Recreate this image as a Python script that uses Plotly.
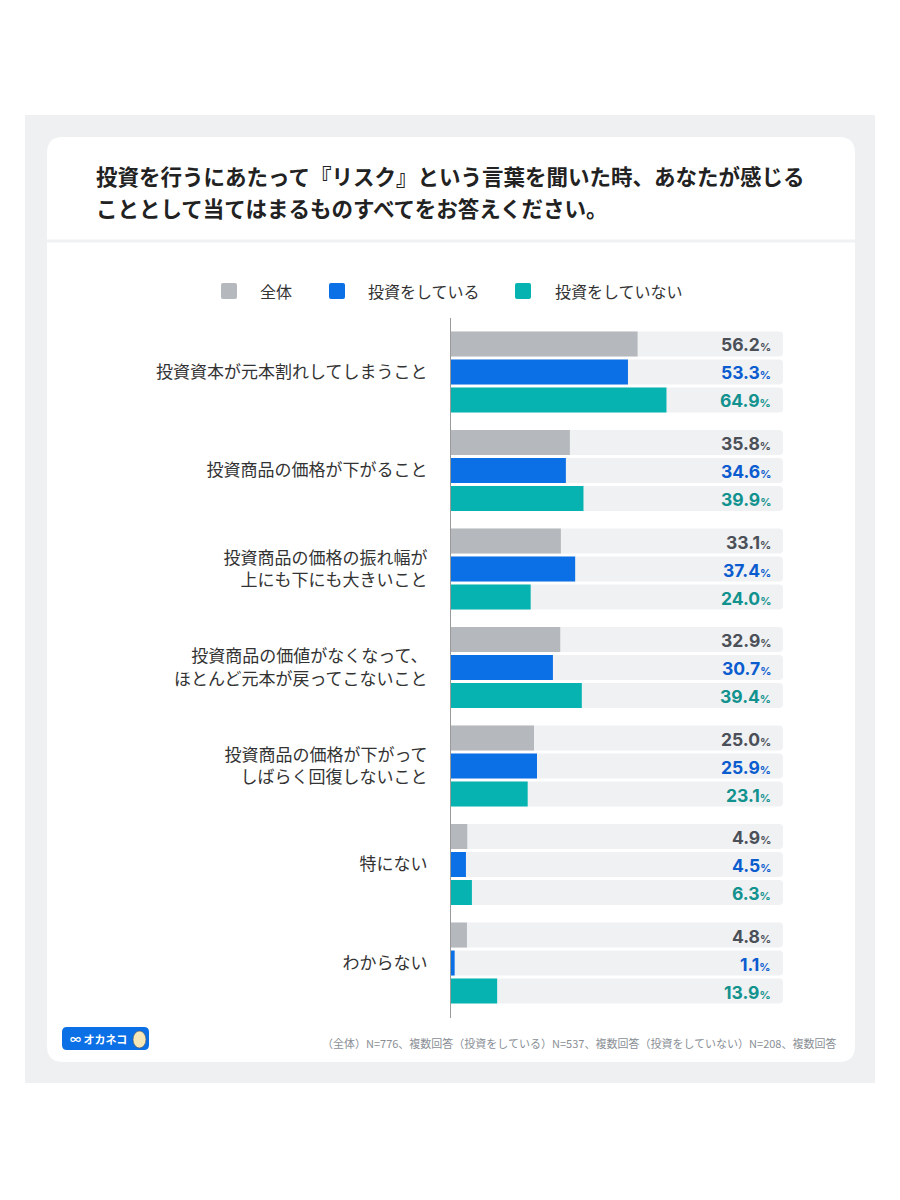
import plotly.graph_objects as go

# ---------------- data ----------------
categories = [
    "投資資本が元本割れしてしまうこと",
    "投資商品の価格が下がること",
    "投資商品の価格の振れ幅が<br>上にも下にも大きいこと",
    "投資商品の価値がなくなって、<br>ほとんど元本が戻ってこないこと",
    "投資商品の価格が下がって<br>しばらく回復しないこと",
    "特にない",
    "わからない",
]
series_names = ["全体", "投資をしている", "投資をしていない"]
values_all = [56.2, 35.8, 33.1, 32.9, 25.0, 4.9, 4.8]
values_invest = [53.3, 34.6, 37.4, 30.7, 25.9, 4.5, 1.1]
values_noinvest = [64.9, 39.9, 24.0, 39.4, 23.1, 6.3, 13.9]
track_max = 100

title_lines = [
    "投資を行うにあたって『リスク』という言葉を聞いた時、あなたが感じる",
    "こととして当てはまるものすべてをお答えください。",
]
footnote = "（全体）N=776、複数回答（投資をしている）N=537、複数回答（投資をしていない）N=208、複数回答"

# ---------------- style ----------------
W, H = 900, 1200
OFF = 8  # page body margin compensation
bar_colors = ["#b5b8bc", "#0b6fe6", "#07b3b1"]
label_colors = ["#4b5058", "#0b5ccf", "#12928e"]
track_color = "#eff1f3"
font_jp = "Noto Sans CJK JP"
font_num = "Inter, Noto Sans CJK JP"


def PX(x):
    return (x - OFF) / W


def PY(y):
    return 1 - (y - OFF) / H


# plot area in pixels (reference coordinates)
px_left, px_right = 451, 783
px_top, px_bot = 318, 1018
y_range = [6.558, -0.548]
unit_px = (px_bot - px_top) / (y_range[0] - y_range[1])
bar_w = 25 / unit_px
bar_pitch = 28 / unit_px
offsets = [-bar_pitch - bar_w / 2, -bar_w / 2, bar_pitch - bar_w / 2]

series_values = [values_all, values_invest, values_noinvest]

fig = go.Figure()

# tracks
for j in range(3):
    fig.add_trace(go.Bar(
        y=categories, x=[track_max] * len(categories), orientation="h",
        offset=offsets[j], width=bar_w,
        marker=dict(color=track_color, cornerradius=4, line=dict(width=0)),
        hoverinfo="skip", showlegend=False,
    ))
# data bars
for j, (name, vals) in enumerate(zip(series_names, series_values)):
    fig.add_trace(go.Bar(
        y=categories, x=vals, orientation="h", name=name,
        offset=offsets[j], width=bar_w,
        marker=dict(color=bar_colors[j], cornerradius=4, line=dict(width=0)),
        showlegend=False,
    ))

# value labels
annotations = []
for j, vals in enumerate(series_values):
    for cat, v in zip(categories, vals):
        annotations.append(dict(
            x=track_max, y=cat, xref="x", yref="y",
            xanchor="right", yanchor="middle", xshift=-10,
            yshift=-(offsets[j] + bar_w / 2) * unit_px - 1,
            text=f"<b>{v:.1f}<span style='font-size:11px'>%</span></b>",
            showarrow=False,
            font=dict(family=font_num, size=17.5, color=label_colors[j]),
        ))

# title
for line, ty in zip(title_lines, [175, 208]):
    annotations.append(dict(x=PX(94), y=PY(ty), xref="paper", yref="paper",
                            xanchor="left", yanchor="middle", showarrow=False,
                            text=f"<b>{line}</b>",
                            font=dict(family=font_jp, size=21.5, color="#222222")))

shapes = []


def rrect(x0, y0, x1, y1, r):
    # pixel -> paper path with rounded corners
    return (f"M {PX(x0 + r)},{PY(y0)} L {PX(x1 - r)},{PY(y0)} "
            f"Q {PX(x1)},{PY(y0)} {PX(x1)},{PY(y0 + r)} "
            f"L {PX(x1)},{PY(y1 - r)} Q {PX(x1)},{PY(y1)} {PX(x1 - r)},{PY(y1)} "
            f"L {PX(x0 + r)},{PY(y1)} Q {PX(x0)},{PY(y1)} {PX(x0)},{PY(y1 - r)} "
            f"L {PX(x0)},{PY(y0 + r)} Q {PX(x0)},{PY(y0)} {PX(x0 + r)},{PY(y0)} Z")


# outer gray panel and white card
shapes.append(dict(type="rect", xref="paper", yref="paper", layer="below",
                   x0=PX(25), x1=PX(875), y0=PY(1083), y1=PY(115),
                   fillcolor="#eef0f2", line=dict(width=0)))
shapes.append(dict(type="path", xref="paper", yref="paper", layer="below",
                   path=rrect(47, 137, 855, 1062, 16),
                   fillcolor="#ffffff", line=dict(width=0)))
# separator
shapes.append(dict(type="rect", xref="paper", yref="paper", layer="below",
                   x0=PX(47), x1=PX(855), y0=PY(242.5), y1=PY(239.5),
                   fillcolor="#eff1f3", line=dict(width=0)))

# legend (manual)
legend_sq_x = [221, 329, 515]
legend_txt_x = [258, 366, 553]
legend_y = 291
for j, name in enumerate(series_names):
    x0 = legend_sq_x[j]
    shapes.append(dict(type="path", xref="paper", yref="paper",
                       path=rrect(x0, legend_y - 8, x0 + 16, legend_y + 8, 2),
                       fillcolor=bar_colors[j], line=dict(width=0)))
    annotations.append(dict(x=PX(legend_txt_x[j]), y=PY(legend_y),
                            xref="paper", yref="paper", xanchor="left",
                            yanchor="middle", showarrow=False, text=name,
                            font=dict(family=font_jp, size=16, color="#333333")))

# logo
shapes.append(dict(type="path", xref="paper", yref="paper",
                   path=rrect(62, 1027, 149, 1050, 5),
                   fillcolor="#0b6fe6", line=dict(width=0)))
shapes.append(dict(type="circle", xref="paper", yref="paper",
                   x0=PX(133), x1=PX(146), y0=PY(1048), y1=PY(1031),
                   fillcolor="#f6e7b8", line=dict(width=0.6, color="#555555")))
annotations.append(dict(x=PX(68), y=PY(1038.5), xref="paper", yref="paper",
                        xanchor="left", yanchor="middle", showarrow=False,
                        text="<b>∞ オカネコ</b>",
                        font=dict(family=font_jp, size=11, color="#ffffff")))

# footnote
annotations.append(dict(x=PX(838), y=PY(1043), xref="paper", yref="paper",
                        xanchor="right", yanchor="middle", showarrow=False,
                        text=footnote,
                        font=dict(family=font_jp, size=11, color="#8a8f96")))

fig.update_layout(
    width=W, height=H,
    margin=dict(l=0, r=0, t=0, b=0),
    paper_bgcolor="#ffffff", plot_bgcolor="rgba(0,0,0,0)",
    barmode="overlay", showlegend=False,
    xaxis=dict(domain=[PX(px_left), PX(px_right)], range=[0, track_max],
               showgrid=False, zeroline=False, showticklabels=False,
               showline=False, fixedrange=True),
    yaxis=dict(domain=[PY(px_bot), PY(px_top)], range=y_range,
               type="category", categoryorder="array", categoryarray=categories,
               showgrid=False, zeroline=False, showline=True,
               linecolor="#9a9a9a", linewidth=1, ticks="",
               ticklabelstandoff=19,
               tickfont=dict(family=font_jp, size=17, color="#333333")),
    shapes=shapes, annotations=annotations,
    font=dict(family=font_jp),
)

fig.write_html("out.html")
